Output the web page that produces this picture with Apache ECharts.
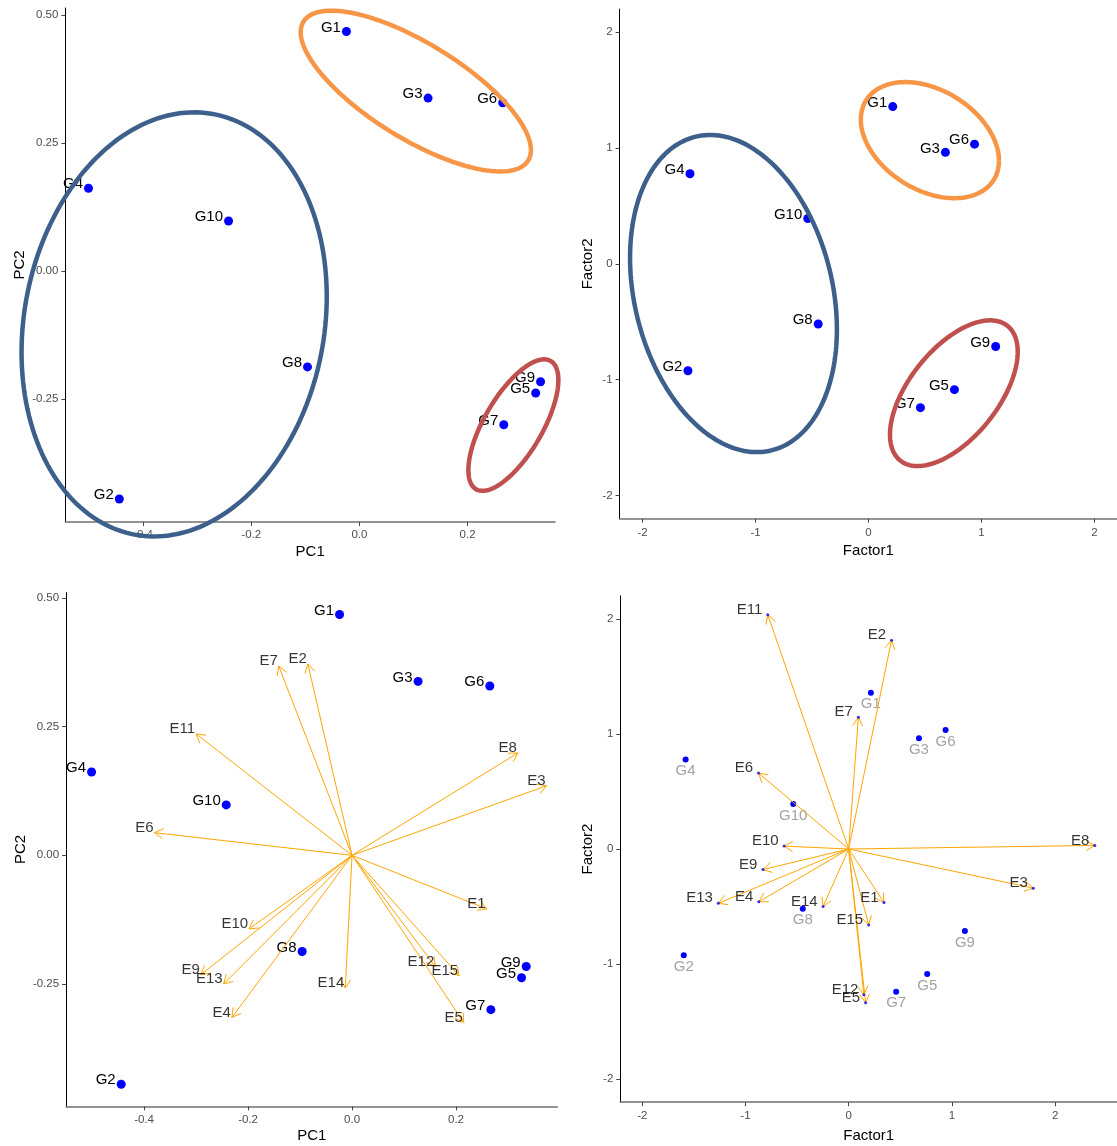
<!DOCTYPE html>
<html>
<head>
<meta charset="utf-8">
<script src="https://cdn.jsdelivr.net/npm/echarts@6/dist/echarts.min.js"></script>
<style>
  html, body { margin: 0; padding: 0; background: #fff; }
  #chart { width: 1117px; height: 1146px; }
</style>
</head>
<body>
<div id="chart"></div>
<script>
// ---------------- data ----------------
const genotypes = ['G1','G2','G3','G4','G5','G6','G7','G8','G9','G10'];
const pcaX = [-0.024, -0.444, 0.127, -0.501, 0.326, 0.265, 0.267, -0.096, 0.335, -0.242];
const pcaY = [0.468, -0.445, 0.338, 0.162, -0.238, 0.329, -0.300, -0.187, -0.216, 0.098];
const faX  = [0.215, -1.598, 0.681, -1.580, 0.761, 0.939, 0.460, -0.445, 1.126, -0.537];
const faY  = [1.358, -0.923, 0.963, 0.778, -1.086, 1.034, -1.241, -0.519, -0.713, 0.392];

const envs = ['E1','E2','E3','E4','E5','E6','E7','E8','E9','E10','E11','E12','E13','E14','E15'];
const pcaLoadX = [0.259, -0.085, 0.374, -0.231, 0.215, -0.380, -0.141, 0.319, -0.291, -0.198, -0.300, 0.160, -0.247, -0.013, 0.206];
const pcaLoadY = [-0.104, 0.372, 0.135, -0.315, -0.325, 0.044, 0.368, 0.199, -0.232, -0.143, 0.236, -0.216, -0.250, -0.258, -0.234];
const faLoadX  = [0.342, 0.415, 1.789, -0.871, 0.164, -0.874, 0.094, 2.385, -0.831, -0.626, -0.784, 0.147, -1.263, -0.248, 0.194];
const faLoadY  = [-0.465, 1.814, -0.340, -0.459, -1.336, 0.660, 1.145, 0.031, -0.179, 0.025, 2.035, -1.267, -0.472, -0.500, -0.660];

// cluster ellipses: center, conjugate semi-axis vectors (data units)
const pcaEllipseCenter = [[-0.3426, -0.104], [0.1043, 0.3517], [0.2847, -0.3007]];
const pcaEllipseU      = [[0.2822, 0.0544], [0.2129, -0.1151], [0.0832, 0.0879]];
const pcaEllipseV      = [[0, 0.4106], [0, 0.1068], [0, 0.0936]];
const faEllipseCenter  = [[-1.195, -0.256], [0.5438, 1.0686], [0.7558, -1.1164]];
const faEllipseU       = [[0.9155, -0.3084], [0.6114, -0.1773], [0.5653, 0.3577]];
const faEllipseV       = [[0, 1.334], [0, 0.4688], [0, 0.5175]];
const ellipseColors    = ['#3C5F8B', '#F79646', '#C0504D'];

const pcaTicksX = [-0.4, -0.2, 0, 0.2];
const pcaTicksY = [-0.25, 0, 0.25, 0.5];
const faTicks   = [-2, -1, 0, 1, 2];

// ---------------- helpers ----------------
const FONT = 'Liberation Sans, Arial, sans-serif';
function pairs(xs, ys, names) {
  return xs.map((x, i) => ({ name: names[i], value: [x, ys[i]] }));
}
function axisX(gi, min, max, ticks, fmt, name, gap, margin) {
  return {
    gridIndex: gi, type: 'value', min: min, max: max, name: name,
    nameLocation: 'middle', nameGap: gap,
    nameTextStyle: { fontFamily: FONT, fontSize: 15, color: '#000' },
    splitLine: { show: false },
    axisLine: { onZero: false, lineStyle: { color: '#707070', width: 1.5 } },
    axisTick: { show: true, length: 4, customValues: ticks, lineStyle: { color: '#444' } },
    axisLabel: { customValues: ticks, formatter: fmt, margin: margin,
                 fontFamily: FONT, fontSize: 11.5, color: '#4D4D4D' }
  };
}
function axisY(gi, min, max, ticks, fmt, name, gap) {
  return {
    gridIndex: gi, type: 'value', min: min, max: max, name: name,
    nameLocation: 'middle', nameGap: gap,
    nameTextStyle: { fontFamily: FONT, fontSize: 15, color: '#000' },
    splitLine: { show: false },
    axisLine: { onZero: false, lineStyle: { color: '#000', width: 1 } },
    axisTick: { show: true, length: 4, customValues: ticks, lineStyle: { color: '#444' } },
    axisLabel: { customValues: ticks, formatter: fmt, margin: 7,
                 fontFamily: FONT, fontSize: 11.5, color: '#4D4D4D' }
  };
}
function pointSeries(gi, xs, ys, names, size, label) {
  return {
    type: 'scatter', xAxisIndex: gi, yAxisIndex: gi, z: 3,
    data: pairs(xs, ys, names), symbolSize: size,
    itemStyle: { color: '#0000FF', opacity: 1 },
    label: Object.assign({ show: true, formatter: '{b}', fontFamily: FONT, fontSize: 15 }, label),
    emphasis: { disabled: true }, silent: true
  };
}
function ellipseSeries(gi, centers, us, vs) {
  return {
    type: 'custom', xAxisIndex: gi, yAxisIndex: gi, z: 6, silent: true, clip: false,
    encode: { x: 0, y: 1 },
    data: centers.map((c, i) => [c[0], c[1], us[i][0], us[i][1], vs[i][0], vs[i][1], i]),
    renderItem: function (params, api) {
      const cx = api.value(0), cy = api.value(1);
      const ux = api.value(2), uy = api.value(3), vx = api.value(4), vy = api.value(5);
      const pts = [];
      for (let k = 0; k <= 180; k++) {
        const t = 2 * Math.PI * k / 180;
        pts.push(api.coord([cx + ux * Math.cos(t) + vx * Math.sin(t),
                            cy + uy * Math.cos(t) + vy * Math.sin(t)]));
      }
      return { type: 'polyline', shape: { points: pts },
               style: { stroke: ellipseColors[api.value(6)], lineWidth: 4.5, fill: null } };
    }
  };
}
function arrowSeries(gi, xs, ys) {
  return {
    type: 'custom', xAxisIndex: gi, yAxisIndex: gi, z: 4, silent: true,
    encode: { x: 0, y: 1 },
    data: xs.map((x, i) => [x, ys[i]]),
    renderItem: function (params, api) {
      const o = api.coord([0, 0]);
      const p = api.coord([api.value(0), api.value(1)]);
      const ang = Math.atan2(p[1] - o[1], p[0] - o[0]);
      const L = 10, a = Math.PI / 6;
      const w1 = [p[0] - L * Math.cos(ang - a), p[1] - L * Math.sin(ang - a)];
      const w2 = [p[0] - L * Math.cos(ang + a), p[1] - L * Math.sin(ang + a)];
      return { type: 'group', children: [
        { type: 'line', shape: { x1: o[0], y1: o[1], x2: p[0], y2: p[1] },
          style: { stroke: '#FFA500', lineWidth: 1 } },
        { type: 'polyline', shape: { points: [w1, p, w2] },
          style: { stroke: '#FFA500', lineWidth: 1, fill: null } }
      ] };
    }
  };
}
function envLabelSeries(gi, xs, ys, size, dist) {
  return {
    type: 'scatter', xAxisIndex: gi, yAxisIndex: gi, z: 5,
    data: pairs(xs, ys, envs), symbolSize: size,
    itemStyle: { color: '#0000FF' },
    label: { show: true, formatter: '{b}', position: 'left', distance: dist, offset: [0, -5],
             fontFamily: FONT, fontSize: 15, color: '#000' },
    emphasis: { disabled: true }, silent: true
  };
}

const fmt2 = v => (Math.abs(v) < 1e-9 ? 0 : v).toFixed(2);
const fmt1 = v => (Math.abs(v) < 1e-9 ? 0 : v).toFixed(1);
const fmt0 = v => String(Math.round(v));

const gLabelLeft = { position: 'left', distance: 1, offset: [0, -4], color: '#000' };

const option = {
  animation: false,
  backgroundColor: '#fff',
  grid: [
    { left: 65.4, top: 8, width: 489.6, height: 514 },
    { left: 619.6, top: 9.1, width: 511.9, height: 509.6 },
    { left: 66.1, top: 592.6, width: 491.3, height: 513.8 },
    { left: 620.3, top: 595.8, width: 518.9, height: 506.4 }
  ],
  xAxis: [
    axisX(0, -0.5437, 0.3617, pcaTicksX, fmt1, 'PC1', 22, 7),
    axisX(1, -2.203, 2.2, faTicks, fmt0, 'Factor1', 25, 8),
    axisX(2, -0.55, 0.395, pcaTicksX, fmt1, 'PC1', 22, 7),
    axisX(3, -2.213, 2.6, faTicks, fmt0, 'Factor1', 26, 8)
  ],
  yAxis: [
    axisY(0, -0.490, 0.514, pcaTicksY, fmt2, 'PC2', 38),
    axisY(1, -2.2, 2.2, faTicks, fmt0, 'Factor2', 24),
    axisY(2, -0.488, 0.5106, pcaTicksY, fmt2, 'PC2', 38),
    axisY(3, -2.2, 2.2, faTicks, fmt0, 'Factor2', 25)
  ],
  series: [
    pointSeries(0, pcaX, pcaY, genotypes, 9, gLabelLeft),
    ellipseSeries(0, pcaEllipseCenter, pcaEllipseU, pcaEllipseV),
    pointSeries(1, faX, faY, genotypes, 9, gLabelLeft),
    ellipseSeries(1, faEllipseCenter, faEllipseU, faEllipseV),
    arrowSeries(2, pcaLoadX, pcaLoadY),
    envLabelSeries(2, pcaLoadX, pcaLoadY, 0, 1),
    pointSeries(2, pcaX, pcaY, genotypes, 9, gLabelLeft),
    arrowSeries(3, faLoadX, faLoadY),
    envLabelSeries(3, faLoadX, faLoadY, 3, 4),
    pointSeries(3, faX, faY, genotypes, 6, { position: 'bottom', distance: 1, color: '#A3A3A3' })
  ]
};

const chart = echarts.init(document.getElementById('chart'), null, { renderer: 'canvas' });
chart.setOption(option);
</script>
</body>
</html>
